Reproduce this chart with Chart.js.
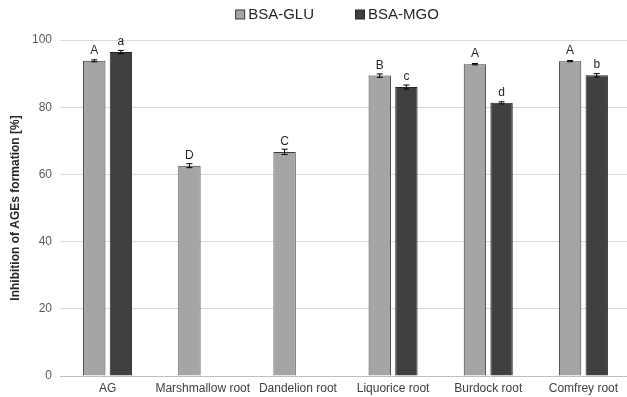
<!DOCTYPE html>
<html>
<head>
<meta charset="utf-8">
<script src="https://cdn.jsdelivr.net/npm/chart.js@4"></script>
<style>
    html, body { margin: 0; padding: 0; background: #fff; overflow: hidden; }
    #wrap { width: 631px; height: 397px; position: relative; }
</style>
</head>
<body>
<div id="wrap"><canvas id="barChart"></canvas></div>
<script>
// Dados do gráfico
const categories = ['AG', 'Marshmallow root', 'Dandelion root', 'Liquorice root', 'Burdock root', 'Comfrey root'];
const gluValues = [93.8, 62.6, 66.7, 89.4, 92.8, 93.7];
const mgoValues = [96.4, null, null, 86.0, 81.3, 89.5];
const gluErrors = [0.3, 0.6, 0.8, 0.5, 0.2, 0.2];
const mgoErrors = [0.5, null, null, 0.6, 0.3, 0.5];
const gluLetters = ['A', 'D', 'C', 'B', 'A', 'A'];
const mgoLetters = ['a', null, null, 'c', 'd', 'b'];
const yTicks = [0, 20, 40, 60, 80, 100];

const fontFamily = '"Liberation Sans", Arial, sans-serif';

// Barras de erro e letras acima das barras
const errorBarPlugin = {
    id: 'errorBars',
    afterDatasetsDraw(chart) {
        const ctx = chart.ctx;
        const yScale = chart.scales.y;
        const errs = [gluErrors, mgoErrors];
        const letters = [gluLetters, mgoLetters];
        chart.data.datasets.forEach((ds, di) => {
            const meta = chart.getDatasetMeta(di);
            meta.data.forEach((bar, i) => {
                const v = ds.data[i];
                if (v === null) return;
                const e = errs[di][i] || 0;
                const yTop = yScale.getPixelForValue(v + e);
                const yBot = yScale.getPixelForValue(v - e);
                ctx.save();
                ctx.strokeStyle = '#000';
                ctx.lineWidth = 1;
                ctx.beginPath();
                ctx.moveTo(bar.x, yTop);
                ctx.lineTo(bar.x, yBot);
                ctx.moveTo(bar.x - 3, yTop);
                ctx.lineTo(bar.x + 3, yTop);
                ctx.moveTo(bar.x - 3, yBot);
                ctx.lineTo(bar.x + 3, yBot);
                ctx.stroke();
                const letter = letters[di][i];
                if (letter) {
                    ctx.fillStyle = '#262626';
                    ctx.font = '12px ' + fontFamily;
                    ctx.textAlign = 'center';
                    ctx.textBaseline = 'alphabetic';
                    ctx.fillText(letter, bar.x, yScale.getPixelForValue(v) - 7);
                }
                ctx.restore();
            });
        });
    }
};

// Legenda desenhada à mão (espaçamento igual ao original)
const legendPlugin = {
    id: 'topLegend',
    afterDraw(chart) {
        const ctx = chart.ctx;
        ctx.save();
        ctx.font = '15px ' + fontFamily;
        const box = 9, boxGap = 4, itemGap = 41;
        const items = chart.data.datasets.map(ds => ({
            text: ds.label, fill: ds.backgroundColor, stroke: ds.borderColor,
            w: box + boxGap + ctx.measureText(ds.label).width,
        }));
        const total = items.reduce((s, it) => s + it.w, 0) + itemGap * (items.length - 1);
        let x = 337 - total / 2;
        const yMid = 14.5;
        items.forEach(it => {
            ctx.fillStyle = it.fill;
            ctx.fillRect(x + 0.5, yMid - box / 2, box, box);
            ctx.strokeStyle = it.stroke;
            ctx.lineWidth = 1;
            ctx.strokeRect(x + 0.5, yMid - box / 2, box, box);
            ctx.fillStyle = '#262626';
            ctx.textAlign = 'left';
            ctx.textBaseline = 'middle';
            ctx.fillText(it.text, x + box + boxGap, yMid);
            x += it.w + itemGap;
        });
        ctx.restore();
    }
};

const ctx = document.getElementById('barChart').getContext('2d');

const barChart = new Chart(ctx, {
    type: 'bar',
    data: {
        labels: categories,
        datasets: [
            {
                label: 'BSA-GLU',
                data: gluValues,
                backgroundColor: '#a5a5a5',
                borderColor: '#3a3a3a',
                borderWidth: 1,
                categoryPercentage: 0.56,
                barPercentage: 0.84,
            },
            {
                label: 'BSA-MGO',
                data: mgoValues,
                backgroundColor: '#404040',
                borderColor: '#262626',
                borderWidth: 1,
                categoryPercentage: 0.56,
                barPercentage: 0.84,
            },
        ],
    },
    options: {
        responsive: true,
        maintainAspectRatio: false,
        animation: false,
        layout: { padding: { top: 40, bottom: 0, left: 0, right: 0 } },
        plugins: {
            tooltip: { enabled: false },
            legend: { display: false },
        },
        scales: {
            x: {
                grid: { display: false, drawTicks: false },
                border: { color: '#bfbfbf', width: 1 },
                ticks: {
                    color: '#404040',
                    font: { family: fontFamily, size: 12 },
                    maxRotation: 0,
                    autoSkip: false,
                    padding: 5,
                },
                afterFit: (scale) => { scale.height = 21; },
            },
            y: {
                min: 0,
                max: 100,
                afterBuildTicks: (scale) => {
                    scale.ticks = yTicks.map(v => ({ value: v }));
                },
                afterFit: (scale) => { scale.width = 60; },
                grid: { color: '#d9d9d9', drawTicks: false },
                border: { display: false },
                ticks: {
                    color: '#595959',
                    font: { family: fontFamily, size: 12 },
                    padding: 8,
                },
                title: {
                    display: true,
                    text: 'Inhibition of AGEs formation [%]',
                    color: '#262626',
                    font: { family: fontFamily, size: 12, weight: 'bold' },
                    padding: { top: 8, bottom: 0 },
                },
            },
        },
    },
    plugins: [errorBarPlugin, legendPlugin],
});
</script>
</body>
</html>
